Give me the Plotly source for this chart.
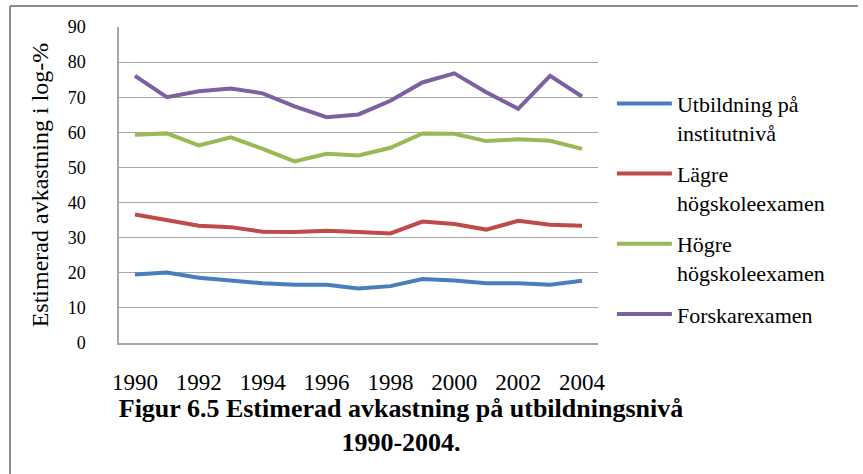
import plotly.graph_objects as go

years = list(range(1990, 2005))
utbildning = [19.5, 20.1, 18.6, 17.7, 17.0, 16.6, 16.6, 15.5, 16.2, 18.2, 17.8, 17.0, 17.0, 16.6, 17.7]
lagre = [36.6, 34.9, 33.4, 33.0, 31.7, 31.6, 32.0, 31.6, 31.2, 34.6, 33.9, 32.3, 34.8, 33.7, 33.4]
hogre = [59.3, 59.7, 56.3, 58.6, 55.3, 51.7, 53.9, 53.4, 55.6, 59.7, 59.6, 57.5, 58.0, 57.6, 55.3]
forskar = [76.1, 70.0, 71.7, 72.5, 71.1, 67.4, 64.3, 65.1, 69.0, 74.2, 76.8, 71.4, 66.7, 76.1, 70.2]

series_names = ["Utbildning på<br>institutnivå", "Lägre<br>högskoleexamen",
                "Högre<br>högskoleexamen", "Forskarexamen"]
series_values = [utbildning, lagre, hogre, forskar]
colors = ["#4a7ebb", "#be4b48", "#98b954", "#7d60a0"]

x_tick_vals = list(range(1990, 2005, 2))
x_tick_text = [str(v) for v in x_tick_vals]

serif = "Liberation Serif"

fig = go.Figure()
for i, (name, vals, col) in enumerate(zip(series_names, series_values, colors)):
    fig.add_trace(go.Scatter(
        x=years, y=vals, name=name, mode="lines",
        line=dict(color=col, width=4),
        legendgroup=f"g{i}",
    ))

fig.update_layout(
    width=863, height=474,
    paper_bgcolor="white", plot_bgcolor="white",
    margin=dict(l=119, r=265, t=27, b=131),
    font=dict(family=serif, color="black"),
    title=dict(
        text="<b>Figur 6.5 Estimerad avkastning på utbildningsnivå<br>1990-2004.</b>",
        font=dict(family=serif, size=26, color="black"),
        x=401 / 863, xanchor="center",
        y=1 - 417 / 474, yanchor="top",
    ),
    legend=dict(
        x=1.029, xanchor="left", y=0.824, yanchor="top",
        font=dict(family=serif, size=22, color="black"),
        valign="top", tracegroupgap=10, itemwidth=55,
        bgcolor="rgba(0,0,0,0)",
    ),
    showlegend=True,
    xaxis=dict(
        range=[1989.5, 2004.5],
        tickvals=x_tick_vals, ticktext=x_tick_text,
        tickfont=dict(family=serif, size=23, color="black"),
        showgrid=False, showline=True, linecolor="#a6a6a6", linewidth=1.5,
        ticks="", ticklabelstandoff=18, zeroline=False,
    ),
    yaxis=dict(
        range=[0, 90], dtick=10, tick0=0,
        tickfont=dict(family=serif, size=18, color="black"),
        showgrid=True, gridcolor="#a6a6a6", gridwidth=1.2,
        showline=True, linecolor="#a6a6a6", linewidth=1.5,
        ticks="", ticklabelstandoff=28, zeroline=False,
        title=dict(text="Estimerad avkastning i log-%",
                   font=dict(family=serif, size=24, color="black"),
                   standoff=12),
    ),
    shapes=[
        dict(type="line", xref="paper", yref="paper",
             x0=-109 / 479, x1=739 / 479, y0=1 + 21 / 316, y1=1 + 21 / 316,
             line=dict(color="#8c8c8c", width=2)),
        dict(type="line", xref="paper", yref="paper",
             x0=-109 / 479, x1=-109 / 479, y0=1 + 21 / 316, y1=-131 / 316,
             line=dict(color="#8c8c8c", width=2)),
    ],
)

fig.write_html("out.html", config={"displayModeBar": False},
               post_script="document.body.style.margin='0';")
